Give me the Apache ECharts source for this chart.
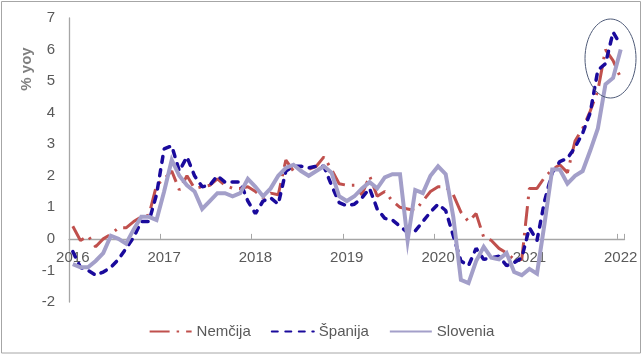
<!DOCTYPE html>
<html><head><meta charset="utf-8">
<script src="https://cdn.jsdelivr.net/npm/echarts@6/dist/echarts.min.js"></script>
<style>html,body{margin:0;padding:0;background:#fff}#c{width:643px;height:355px}</style>
</head><body><div id="c"></div>
<script>
const yearLabels = ['2016','2017','2018','2019','2020','2021','2022'];
const months = [];
for (let y = 2016; y <= 2021; y++) for (let m = 1; m <= 12; m++) months.push(y + '-' + (m < 10 ? '0' + m : m));
months.push('2022-01');

const nemcija = [
  0.4, -0.05, 0.1, -0.25, 0.0, 0.15, 0.35, 0.35, 0.55, 0.7, 0.75, 1.7,
  1.9, 2.15, 1.55, 2.0, 1.6, 1.65, 1.7, 1.9, 1.7, 1.6, 1.6, 1.65,
  1.5, 1.3, 1.45, 1.4, 2.5, 2.15, 2.15, 2.2, 2.3, 2.6, 2.2, 1.75,
  1.7, 1.7, 1.4, 2.0, 1.35, 1.5, 1.2, 1.0, 0.95, 0.9, 1.2, 1.5,
  1.65, 1.65, 1.4, 0.85, 0.55, 0.8, 0.05, -0.05, -0.3, -0.45, -0.65, -0.65,
  1.6, 1.6, 1.95, 2.2, 2.35, 2.1, 3.1, 3.5, 4.05, 4.7, 6.0, 5.65,
  5.1
];
const spanija = [
  -0.4, -0.9, -1.0, -1.15, -1.05, -0.9, -0.65, -0.3, 0.05, 0.55, 0.55, 1.4,
  2.85, 2.95, 2.15, 2.6, 2.0, 1.65, 1.7, 2.0, 1.8, 1.8, 1.8, 1.2,
  0.8, 1.2, 1.3, 1.1, 2.15, 2.3, 2.3, 2.25, 2.3, 2.3, 1.7, 1.15,
  1.05, 1.1, 1.3, 1.6, 0.95, 0.65, 0.6, 0.4, 0.2, 0.25, 0.55, 0.85,
  1.1, 0.9, 0.1, -0.7, -0.85, -0.3, -0.65, -0.6, -0.55, -0.85, -0.75, -0.6,
  0.35, -0.05, 1.2, 2.1, 2.45, 2.55, 2.9, 3.35, 4.0, 5.35, 5.55, 6.55,
  6.15
];
const slovenia = [
  -0.8, -0.9, -0.9, -0.7, -0.45, 0.1, 0.0, -0.15, 0.3, 0.7, 0.7, 0.6,
  1.5, 2.5, 2.0, 1.7, 1.5, 0.95, 1.2, 1.45, 1.45, 1.35, 1.45, 1.9,
  1.65, 1.35, 1.6, 2.0, 2.25, 2.35, 2.15, 2.0, 2.15, 2.3, 2.1, 1.35,
  1.2, 1.35, 1.6, 1.8, 1.6, 1.95, 2.05, 2.05, -0.05, 1.55, 1.45, 2.0,
  2.3, 2.05, 0.7, -1.3, -1.4, -0.7, -0.25, -0.6, -0.65, -0.45, -1.05, -1.15,
  -0.95, -1.1, 0.5, 2.2, 2.2, 1.75, 2.0, 2.15, 2.8, 3.5, 4.9, 5.1,
  6.0
];

const FONT = "'Liberation Sans', Arial, sans-serif";
const chart = echarts.init(document.getElementById('c'), null, {renderer: 'canvas'});
chart.setOption({
  animation: false,
  textStyle: {fontFamily: FONT},
  grid: {left: 69, right: 18.5, top: 18, bottom: 53, containLabel: false},
  legend: {
    data: ['Nemčija', 'Španija', 'Slovenia'],
    left: 'center', top: 324, itemWidth: 42, itemHeight: 14, itemGap: 20, padding: 0,
    itemStyle: {opacity: 0},
    textStyle: {fontSize: 15, color: '#595959', fontFamily: FONT}
  },
  xAxis: {
    type: 'category', data: months, boundaryGap: true,
    axisLine: {onZero: true, lineStyle: {color: '#A6A6A6', width: 1.3}},
    axisTick: {show: true, inside: true, length: 5, interval: function (i) { return i % 12 === 0; }, lineStyle: {color: '#A6A6A6'}},
    axisLabel: {interval: function (i) { return i % 12 === 0; }, formatter: function (v) { return yearLabels[yearLabels.indexOf(v.slice(0, 4))]; }, color: '#595959', fontSize: 15, margin: -52, fontFamily: FONT},
    splitLine: {show: false}
  },
  yAxis: {
    type: 'value', min: -2, max: 7, interval: 1,
    axisLine: {show: true, lineStyle: {color: '#A6A6A6', width: 1.3}},
    axisTick: {show: false}, splitLine: {show: false},
    axisLabel: {color: '#595959', fontSize: 15, margin: 14, fontFamily: FONT}
  },
  series: [
    {name: 'Nemčija', type: 'line', data: nemcija, symbol: 'none', showSymbol: false,
     lineStyle: {color: '#C0504D', width: 3, type: [20, 7, 2.5, 7], cap: 'butt'}, itemStyle: {color: '#C0504D'}},
    {name: 'Španija', type: 'line', data: spanija, symbol: 'none', showSymbol: false,
     lineStyle: {color: '#1A0A9C', width: 3.5, type: [6, 7.5], cap: 'round'}, itemStyle: {color: '#1A0A9C'}},
    {name: 'Slovenia', type: 'line', data: slovenia, symbol: 'none', showSymbol: false,
     lineStyle: {color: '#A39FC9', width: 4, cap: 'butt', join: 'miter'}, itemStyle: {color: '#A39FC9'}}
  ],
  graphic: [
    {type: 'rect', shape: {x: 1.5, y: 1.5, width: 639, height: 351.5}, style: {fill: 'none', stroke: '#A6A6A6', lineWidth: 1}, silent: true},
    {type: 'text', x: 27, y: 69, rotation: Math.PI / 2,
     style: {text: '% yoy', font: "bold 15px 'Liberation Sans', Arial, sans-serif", fill: '#7F7F7F', textAlign: 'center', textVerticalAlign: 'middle', verticalAlign: 'middle'}},
    {type: 'ellipse', shape: {cx: 610.5, cy: 58.5, rx: 25.5, ry: 39.5}, style: {fill: 'none', stroke: '#4F5B78', lineWidth: 1}, z: 100}
  ]
});
</script>
</body></html>
